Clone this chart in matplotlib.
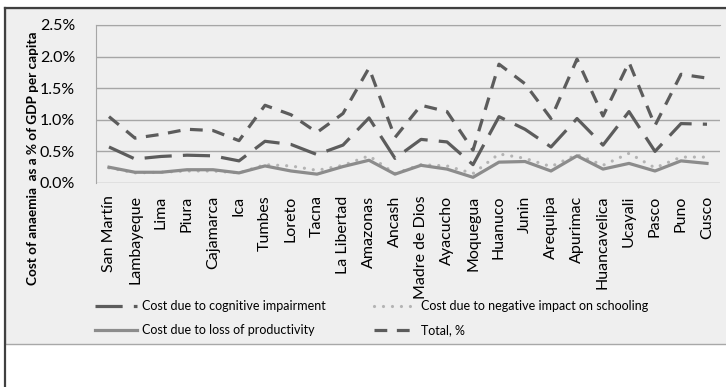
import matplotlib
matplotlib.use("Agg")
import matplotlib.pyplot as plt
from matplotlib.patches import Rectangle
from matplotlib.lines import Line2D
from matplotlib.ticker import FuncFormatter

plt.rcParams['font.family'] = ['Lato', 'DejaVu Sans']

# regions on the x axis
regions = ["San Martín", "Lambayeque", "Lima", "Piura", "Cajamarca", "Ica",
           "Tumbes", "Loreto", "Tacna", "La Libertad", "Amazonas", "Ancash",
           "Madre de Dios", "Ayacucho", "Moquegua", "Huanuco", "Junin",
           "Arequipa", "Apurimac", "Huancavelica", "Ucayali", "Pasco",
           "Puno", "Cusco"]

# cost as % of GDP per capita
cognitive = [0.57, 0.38, 0.42, 0.44, 0.43, 0.35, 0.66, 0.61, 0.45, 0.60, 1.03, 0.39,
             0.69, 0.65, 0.29, 1.05, 0.85, 0.57, 1.02, 0.60, 1.13, 0.50, 0.94, 0.93]
schooling = [0.24, 0.16, 0.17, 0.19, 0.19, 0.16, 0.29, 0.27, 0.20, 0.28, 0.43, 0.15,
             0.29, 0.27, 0.15, 0.46, 0.39, 0.26, 0.45, 0.28, 0.47, 0.24, 0.41, 0.41]
productivity = [0.25, 0.17, 0.17, 0.21, 0.21, 0.16, 0.27, 0.19, 0.14, 0.26, 0.36, 0.14,
                0.28, 0.22, 0.09, 0.33, 0.34, 0.19, 0.43, 0.22, 0.31, 0.19, 0.35, 0.31]
total = [1.05, 0.71, 0.77, 0.85, 0.83, 0.67, 1.23, 1.08, 0.80, 1.10, 1.82, 0.72,
         1.23, 1.13, 0.52, 1.88, 1.57, 1.02, 1.96, 1.06, 1.91, 0.91, 1.72, 1.66]

labels = ["Cost due to cognitive impairment",
          "Cost due to negative impact on schooling",
          "Cost due to loss of productivity",
          "Total, %"]

W, H = 726, 387
fig = plt.figure(figsize=(W / 100, H / 100), dpi=100)
fig.patch.set_facecolor('white')

# grey chart panel with dark top/left border
panel = Rectangle((5 / W, 1 - 344 / H), 1.0, (344 - 7.5) / H, transform=fig.transFigure,
                  facecolor='#efefef', edgecolor='#a8a8a8', lw=1, zorder=-10)
fig.patches.append(panel)
fig.add_artist(Line2D([5 / W, 1], [1 - 7.5 / H, 1 - 7.5 / H], transform=fig.transFigure,
                      color='#404040', lw=1.6))
fig.add_artist(Line2D([5 / W, 5 / W], [0, 1 - 7.5 / H], transform=fig.transFigure,
                      color='#404040', lw=1.6))

ax = fig.add_axes([96 / W, 1 - 183 / H, (720 - 96) / W, (183 - 25) / H])
ax.set_facecolor('#efefef')

x = list(range(len(regions)))
dark = '#5c5c5c'

l1, = ax.plot(x, cognitive, color=dark, lw=2.3, dashes=(8.5, 3.5), label=labels[0])
l2, = ax.plot(x, schooling, color='#b4b4b4', lw=2.3, dashes=(0.01, 2.8),
              dash_capstyle='round', label=labels[1])
l3, = ax.plot(x, productivity, color='#8c8c8c', lw=2.3, label=labels[2])
l4, = ax.plot(x, total, color=dark, lw=2.3, dashes=(4, 3), label=labels[3])

ax.set_xlim(-0.5, len(regions) - 0.5)
ax.set_ylim(0, 2.5)
ax.set_yticks([0, 0.5, 1.0, 1.5, 2.0, 2.5])
ax.yaxis.set_major_formatter(FuncFormatter(lambda v, p: f"{v:.1f}%"))
ax.grid(axis='y', color='#a6a6a6', lw=1)
ax.set_axisbelow(True)
for s in ['right', 'bottom']:
    ax.spines[s].set_visible(False)
ax.spines['top'].set_color('#a6a6a6')
ax.spines['left'].set_color('#a6a6a6')
ax.tick_params(length=0, labelsize=11.5, colors='#000000')
ax.tick_params(axis='y', pad=15)
ax.tick_params(axis='x', pad=9)
ax.set_xticks(x)
ax.set_xticklabels(regions, rotation=90, va='top', ha='center')

fig.text(33 / W, 1 - 158 / H, "Cost of anaemia  as a % of GDP per capita", rotation=90,
         ha='center', va='center', fontsize=9.8, fontweight='bold')

fig.legend([l1, l3, l2, l4], [labels[0], labels[2], labels[1], labels[3]],
           loc='upper left', bbox_to_anchor=(95 / W, 1 - 300 / H), ncol=2,
           frameon=False, fontsize=9, handlelength=3.4, handletextpad=0.4,
           columnspacing=3.8, labelspacing=0.95, borderpad=0, borderaxespad=0)

fig.savefig("out.png", dpi=100)
